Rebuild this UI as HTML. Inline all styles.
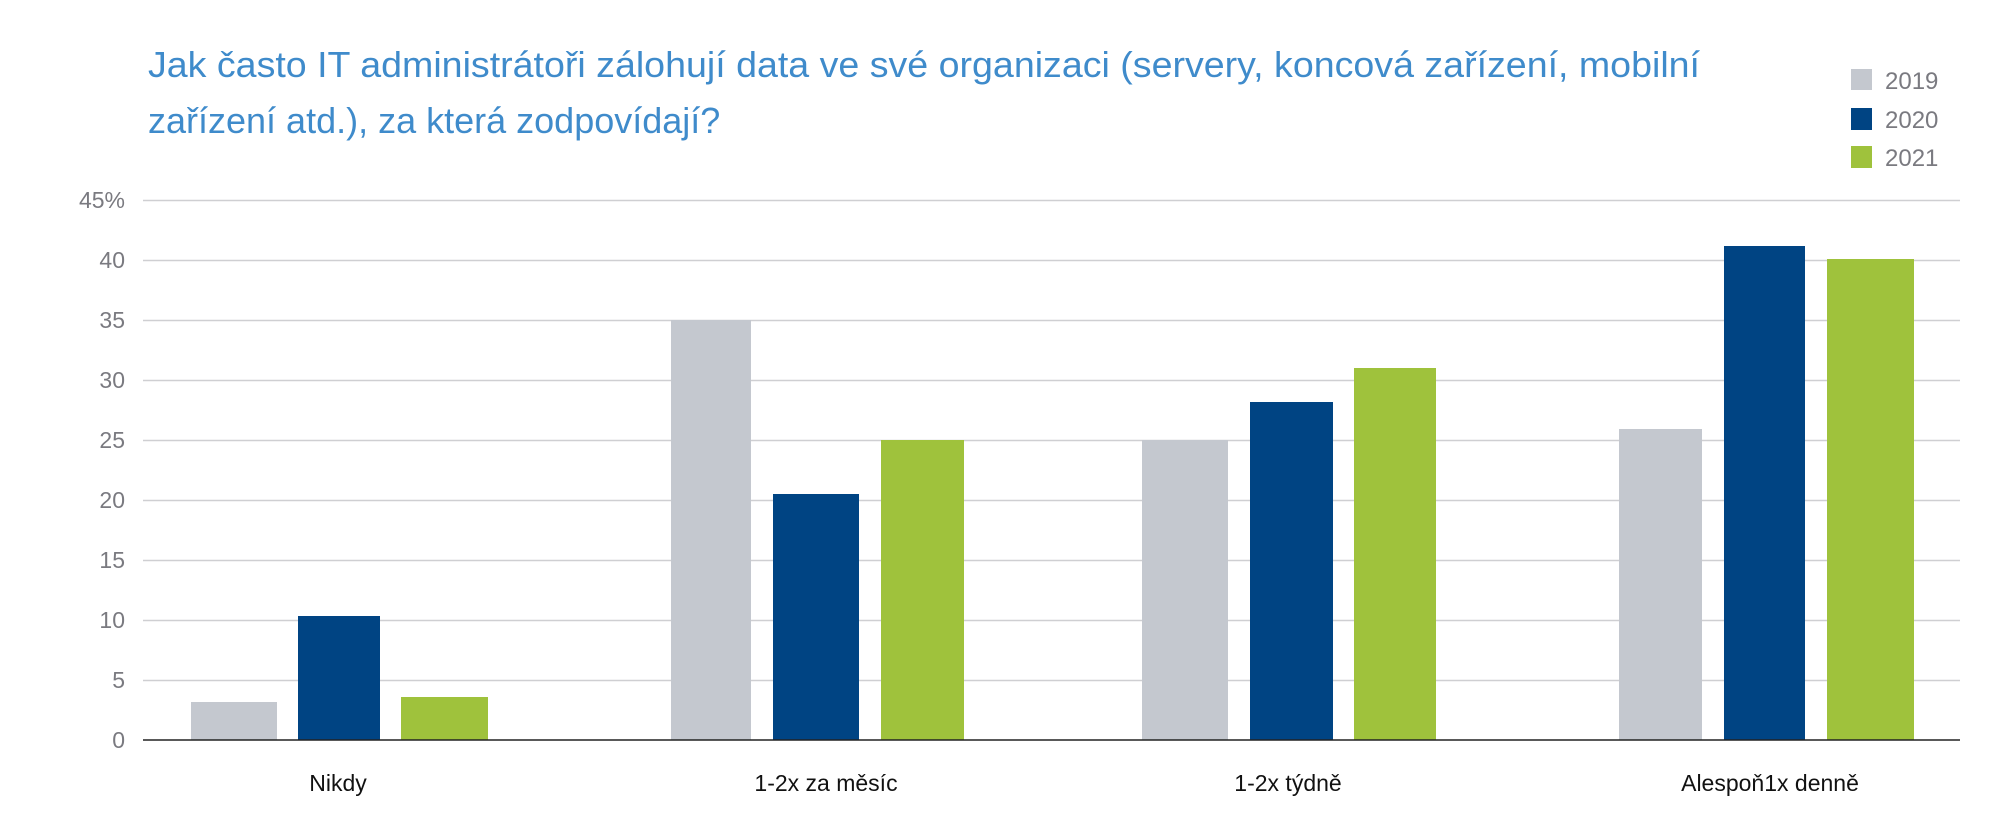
<!DOCTYPE html>
<html><head><meta charset="utf-8"><style>
body{margin:0;background:#fff;}
svg text{font-family:"Liberation Sans",sans-serif;}
</style></head><body>
<svg width="2012" height="832" xmlns="http://www.w3.org/2000/svg">
<rect width="2012" height="832" fill="#fff"/>
<text x="148" y="77" font-size="36" fill="#3f8bcb" textLength="1552" lengthAdjust="spacingAndGlyphs">Jak často IT administrátoři zálohují data ve své organizaci (servery, koncová zařízení, mobilní</text>
<text x="148" y="133" font-size="36" fill="#3f8bcb">zařízení atd.), za která zodpovídají?</text>
<rect x="1851" y="69" width="21" height="21" fill="#c4c8cf"/>
<rect x="1851" y="108" width="21" height="22" fill="#004483"/>
<rect x="1851" y="146" width="21" height="22" fill="#9fc23c"/>
<text x="1885" y="89" font-size="24" fill="#7a7a80">2019</text>
<text x="1885" y="128" font-size="24" fill="#7a7a80">2020</text>
<text x="1885" y="166" font-size="24" fill="#7a7a80">2021</text>
<g stroke="#cfcfd2" stroke-width="1.5">
<line x1="143" x2="1960" y1="200.5" y2="200.5"/>
<line x1="143" x2="1960" y1="260.5" y2="260.5"/>
<line x1="143" x2="1960" y1="320.5" y2="320.5"/>
<line x1="143" x2="1960" y1="380.5" y2="380.5"/>
<line x1="143" x2="1960" y1="440.5" y2="440.5"/>
<line x1="143" x2="1960" y1="500.5" y2="500.5"/>
<line x1="143" x2="1960" y1="560.5" y2="560.5"/>
<line x1="143" x2="1960" y1="620.5" y2="620.5"/>
<line x1="143" x2="1960" y1="680.5" y2="680.5"/>
</g>
<g font-size="23" fill="#7a7a80" text-anchor="end">
<text x="125" y="208">45%</text>
<text x="125" y="268">40</text>
<text x="125" y="328">35</text>
<text x="125" y="388">30</text>
<text x="125" y="448">25</text>
<text x="125" y="508">20</text>
<text x="125" y="568">15</text>
<text x="125" y="628">10</text>
<text x="125" y="688">5</text>
<text x="125" y="748">0</text>
</g>
<g>
<rect x="191" y="702" width="86" height="38" fill="#c4c8cf"/>
<rect x="298" y="616" width="82" height="124" fill="#004483"/>
<rect x="401" y="697" width="87" height="43" fill="#9fc23c"/>
<rect x="671" y="320" width="80" height="420" fill="#c4c8cf"/>
<rect x="773" y="494" width="86" height="246" fill="#004483"/>
<rect x="881" y="440" width="83" height="300" fill="#9fc23c"/>
<rect x="1142" y="440" width="86" height="300" fill="#c4c8cf"/>
<rect x="1250" y="402" width="83" height="338" fill="#004483"/>
<rect x="1354" y="368" width="82" height="372" fill="#9fc23c"/>
<rect x="1619" y="429" width="83" height="311" fill="#c4c8cf"/>
<rect x="1724" y="246" width="81" height="494" fill="#004483"/>
<rect x="1827" y="259" width="87" height="481" fill="#9fc23c"/>
</g>
<line x1="143" x2="1960" y1="740" y2="740" stroke="#222" stroke-width="1.5"/>
<g font-size="23" fill="#111" text-anchor="middle">
<text x="338" y="791">Nikdy</text>
<text x="826" y="791">1-2x za měsíc</text>
<text x="1288" y="791">1-2x týdně</text>
<text x="1770" y="791">Alespoň1x denně</text>
</g>
</svg>
</body></html>
